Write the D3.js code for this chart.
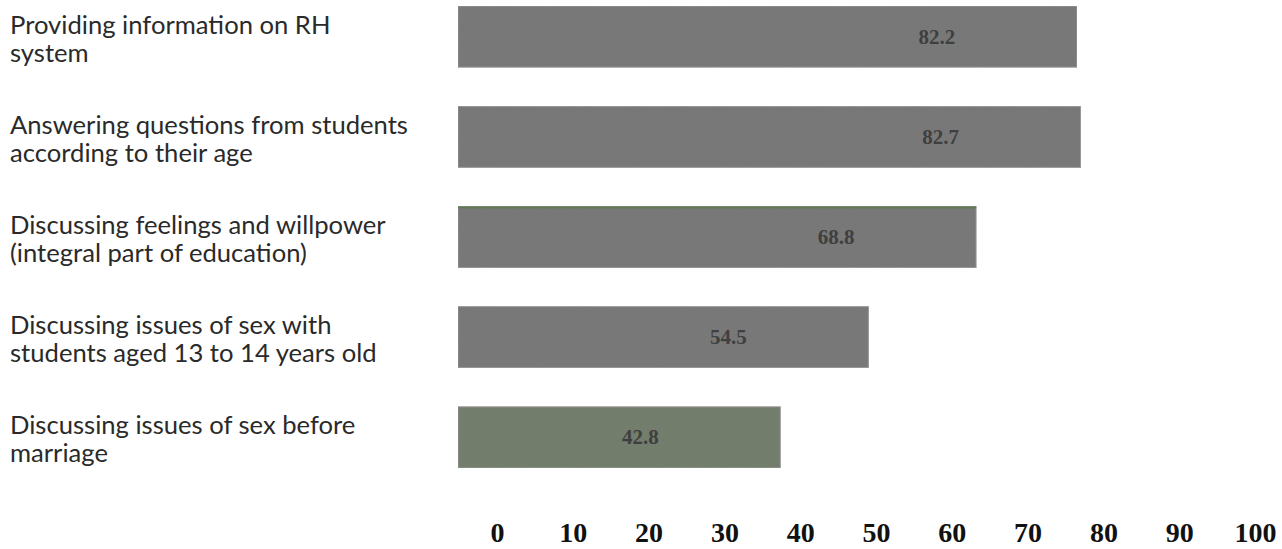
<!DOCTYPE html>
<html>
<head>
<meta charset="utf-8">
<script src="https://cdn.jsdelivr.net/npm/d3@7"></script>
<style>
  html, body { margin: 0; padding: 0; background: #ffffff; }
  svg { display: block; }
</style>
</head>
<body>
<svg id="chart" width="1282" height="549"></svg>
<script>
// Activities addressed in reproductive health (RH) education, percent
const categories = [
  ["Providing information on RH", "system"],
  ["Answering questions from students", "according to their age"],
  ["Discussing feelings and willpower", "(integral part of education)"],
  ["Discussing issues of sex with", "students aged 13 to 14 years old"],
  ["Discussing issues of sex before", "marriage"]
];
const values = [82.2, 82.7, 68.8, 54.5, 42.8];
const tickValues = [0, 10, 20, 30, 40, 50, 60, 70, 80, 90, 100];

const svg = d3.select("#chart");

// Bars and the value axis labels are laid out on their own ranges
const xBar = d3.scaleLinear().domain([0, 100]).range([458, 1211]);
const xTick = d3.scaleLinear().domain([0, 100]).range([497, 1255]);
const y = d3.scaleBand()
  .domain(d3.range(categories.length))
  .range([-13, 487])
  .paddingInner(0.39)
  .paddingOuter(0.19);

const barFill = (i) => i === values.length - 1 ? "#76806f" : "#7b7b7b";

// grain texture over the bars
const defs = svg.append("defs");
const f = defs.append("filter").attr("id", "grain")
  .attr("x", 0).attr("y", 0).attr("width", 1).attr("height", 1);
f.append("feTurbulence").attr("type", "fractalNoise")
  .attr("baseFrequency", 0.9).attr("numOctaves", 2).attr("seed", 3).attr("result", "noise");
f.append("feColorMatrix").attr("in", "noise").attr("type", "matrix")
  .attr("values", "0 0 0 0 0  0 0 0 0 0  0 0 0 0 0  0 0 0 0.10 0").attr("result", "dots");
f.append("feComposite").attr("in", "dots").attr("in2", "SourceGraphic").attr("operator", "atop");

const bars = svg.append("g");
bars.selectAll("rect.bar")
  .data(values)
  .join("rect")
  .attr("class", "bar")
  .attr("x", xBar(0))
  .attr("y", (d, i) => y(i))
  .attr("width", d => xBar(d) - xBar(0))
  .attr("height", y.bandwidth())
  .attr("fill", (d, i) => barFill(i))
  .attr("stroke", "#9a9a9a")
  .attr("stroke-width", 1)
  .attr("filter", "url(#grain)");

// thin green edge along the top of the third bar
bars.append("line")
  .attr("x1", xBar(0)).attr("x2", xBar(values[2]))
  .attr("y1", y(2) + 1).attr("y2", y(2) + 1)
  .attr("stroke", "#5f7a55").attr("stroke-width", 2);

// value labels inside the bars
svg.append("g").selectAll("text")
  .data(values)
  .join("text")
  .attr("x", d => xBar(d) - 140)
  .attr("y", (d, i) => y(i) + y.bandwidth() / 2 + 7)
  .attr("text-anchor", "middle")
  .attr("font-family", "'Liberation Serif', 'Times New Roman', serif")
  .attr("font-weight", "bold")
  .attr("font-size", 21)
  .attr("fill", "#3f3f3f")
  .text(d => d.toFixed(1));

// category labels, one text element per line
const lines = categories.flatMap((lns, i) => lns.map((t, j) => ({ t, i, j })));
const labelText = svg.append("g")
  .attr("font-family", "Lato, 'Open Sans', sans-serif")
  .attr("fill", "#2a2a2a")
  .selectAll("text")
  .data(lines)
  .join("text")
  .attr("x", 10)
  .attr("y", d => y(d.i) + y.bandwidth() / 2 - 3 + d.j * 28)
  .attr("font-size", 22)
  .text(d => d.t);

// size the labels so the widest line spans ~398px
const widest = d3.max(labelText.nodes(), n => n.getComputedTextLength());
labelText.attr("font-size", 22 * 398 / widest);

// value axis labels
const axis = d3.axisBottom(xTick).tickValues(tickValues).tickSize(0).tickPadding(0);
const gAxis = svg.append("g").attr("transform", "translate(0,542)").call(axis);
gAxis.select(".domain").remove();
gAxis.selectAll("text")
  .attr("dy", 0)
  .attr("font-family", "'Liberation Serif', 'Times New Roman', serif")
  .attr("font-weight", "bold")
  .attr("font-size", 28)
  .attr("fill", "#111111");
</script>
</body>
</html>
